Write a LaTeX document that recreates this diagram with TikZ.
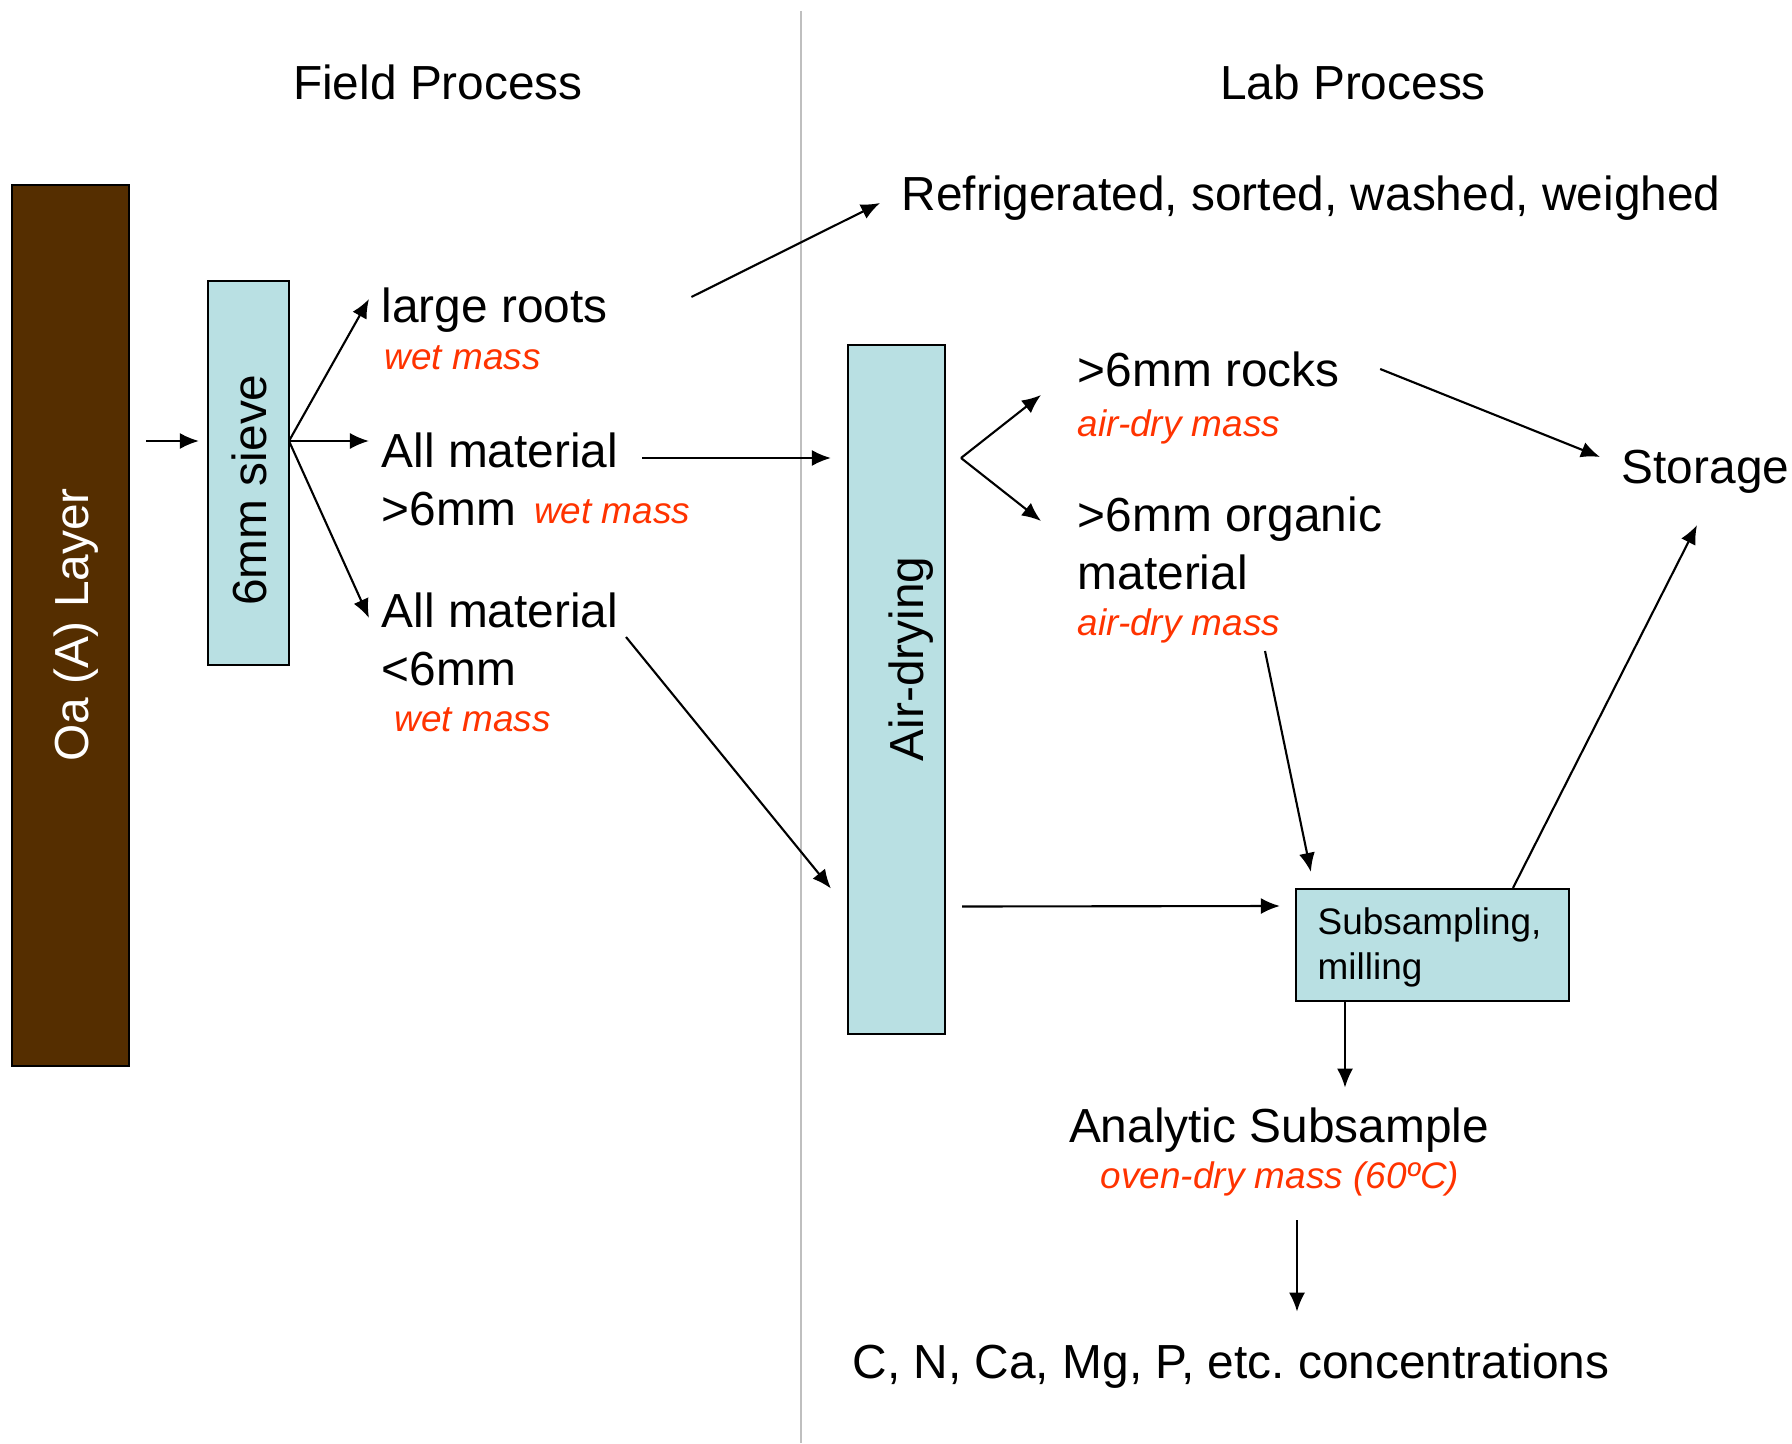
\documentclass[tikz,border=0pt]{standalone}
\usepackage{fontspec}
\setmainfont{Liberation Sans}
\usetikzlibrary{arrows.meta}
\definecolor{soil}{HTML}{552E00}
\definecolor{boxblue}{HTML}{B9E0E3}
\definecolor{massred}{HTML}{FF3300}
\definecolor{divider}{HTML}{BFBFBF}
\newcommand{\masstext}[1]{{\fontsize{10.5}{12.6}\selectfont\itshape\color{massred}#1}}
\frenchspacing

\tikzset{
  big/.style={font=\fontsize{13.6}{16.5}\selectfont, inner sep=0pt},
  small/.style={font=\fontsize{10.5}{12.8}\selectfont, inner sep=0pt},
  mass/.style={font=\fontsize{10.5}{12.6}\selectfont\itshape, text=massred, inner sep=0pt},
  stage/.style={draw, line width=0.6pt, fill=boxblue, inner sep=0pt},
  arr/.style={-{Latex[length=0.19cm,width=0.16cm]}, line width=0.6pt},
}

\begin{document}
\begin{tikzpicture}[x=0.01cm,y=-0.01cm]
\useasboundingbox (0,0) rectangle (1792,1443);
\draw[divider, line width=0.6pt] (801,11) -- (801,1443);

\node[big] (field) at (438,82) {Field Process};
\node[big] (lab) at (1353,82) {Lab Process};

% field side
\node[stage, fill=soil, minimum width=1.17cm, minimum height=8.81cm] (oa) at (70.5,625.5) {};
\node[big, rotate=90, text=white] (oatxt) at (76.5,625) {Oa (A) Layer};
\node[stage, minimum width=0.81cm, minimum height=3.84cm] (sieve) at (248.5,473) {};
\node[big, rotate=90] (sievetxt) at (249,490) {6mm sieve};
\coordinate (split) at (289,441);

\node[big, anchor=base west] (roots) at (381,323) {large roots};
\node[mass, anchor=base west] (rootsmass) at (384,370) {wet mass};
\node[big, anchor=north west, align=left] (coarse) at (381,432) {All material\\>6mm\hspace{0.38em}\raisebox{0.4pt}{\masstext{wet mass}}};
\node[big, anchor=north west, align=left] (fine) at (381,592) {All material\\<6mm};
\node[mass, anchor=base west] (finemass) at (394,731) {wet mass};

% lab side
\node[big, anchor=base west] (refr) at (901,211) {Refrigerated, sorted, washed, weighed};
\node[stage, minimum width=0.97cm, minimum height=6.89cm] (air) at (896.5,689.5) {};
\node[big, rotate=90] (airtxt) at (911,659) {Air-drying};
\coordinate (dry) at (961,458);
\node[big, anchor=base west] (rocks) at (1077,387) {>6mm rocks};
\node[mass, anchor=base west] (rocksmass) at (1077,436) {air-dry mass};
\node[big, anchor=north west, align=left] (organic) at (1077,496) {>6mm organic\\material};
\node[mass, anchor=base west] (orgmass) at (1077,635) {air-dry mass};
\node[big, anchor=base west] (storage) at (1621,483) {Storage};
\node[stage, minimum width=2.73cm, minimum height=1.12cm] (sub) at (1432.5,945) {};
\node[small, anchor=north west, align=left] (subtxt) at (1317,907) {Subsampling,\\milling};
\node[big, anchor=base] (ana) at (1279,1142) {Analytic Subsample};
\node[mass, anchor=base] (oven) at (1280,1188) {oven-dry mass (60ºC)};
\node[big, anchor=base] (conc) at (1231,1378) {C, N, Ca, Mg, P, etc. concentrations};

% connectors
\draw[arr] ([xshift=0.16cm]oa.east |- split) -- ([xshift=-0.08cm]sieve.west |- split);
\draw[arr] (split) -- ([shift={(-12,-24)}]roots.base west);
\draw[arr] (split) -- ([shift={(-12,9)}]coarse.north west);
\draw[arr] (split) -- ([shift={(-12,26)}]fine.north west);
\draw[arr] ([shift={(83,-26)}]roots.base east) -- ([shift={(-21,-8)}]refr.base west);

\coordinate (c1) at ([shift={(261,26)}]coarse.north west);
\coordinate (f1) at ([shift={(245,45)}]fine.north west);
\draw[arr] (c1) -- ([xshift=-0.16cm]air.west |- c1);
\draw[arr] (f1) -- ([shift={(-16,199)}]air.west);

\draw[arr] (dry) -- ([shift={(-36,8)}]rocks.base west);
\draw[arr] (dry) -- ([shift={(-36,25)}]organic.north west);
\draw[arr] ([shift={(40,-18)}]rocks.base east) -- ([shift={(-21,-26)}]storage.base west);
\draw[arr] ([shift={(188,16)}]orgmass.base west) -- ([shift={(16,-16)}]sub.north west);
\draw[arr] ([shift={(16,217)}]air.east) -- ([shift={(-15,-39)}]sub.west);
\draw[arr] ([shift={(80.5,0)}]sub.north) -- ([shift={(76,42)}]storage.base west);
\draw[arr] ([shift={(-87.5,0)}]sub.south) -- ([shift={(66,-19)}]ana.north);
\draw[arr] ([shift={(17,24)}]oven.south) -- ([shift={(66,-31)}]conc.north);
\end{tikzpicture}
\end{document}
